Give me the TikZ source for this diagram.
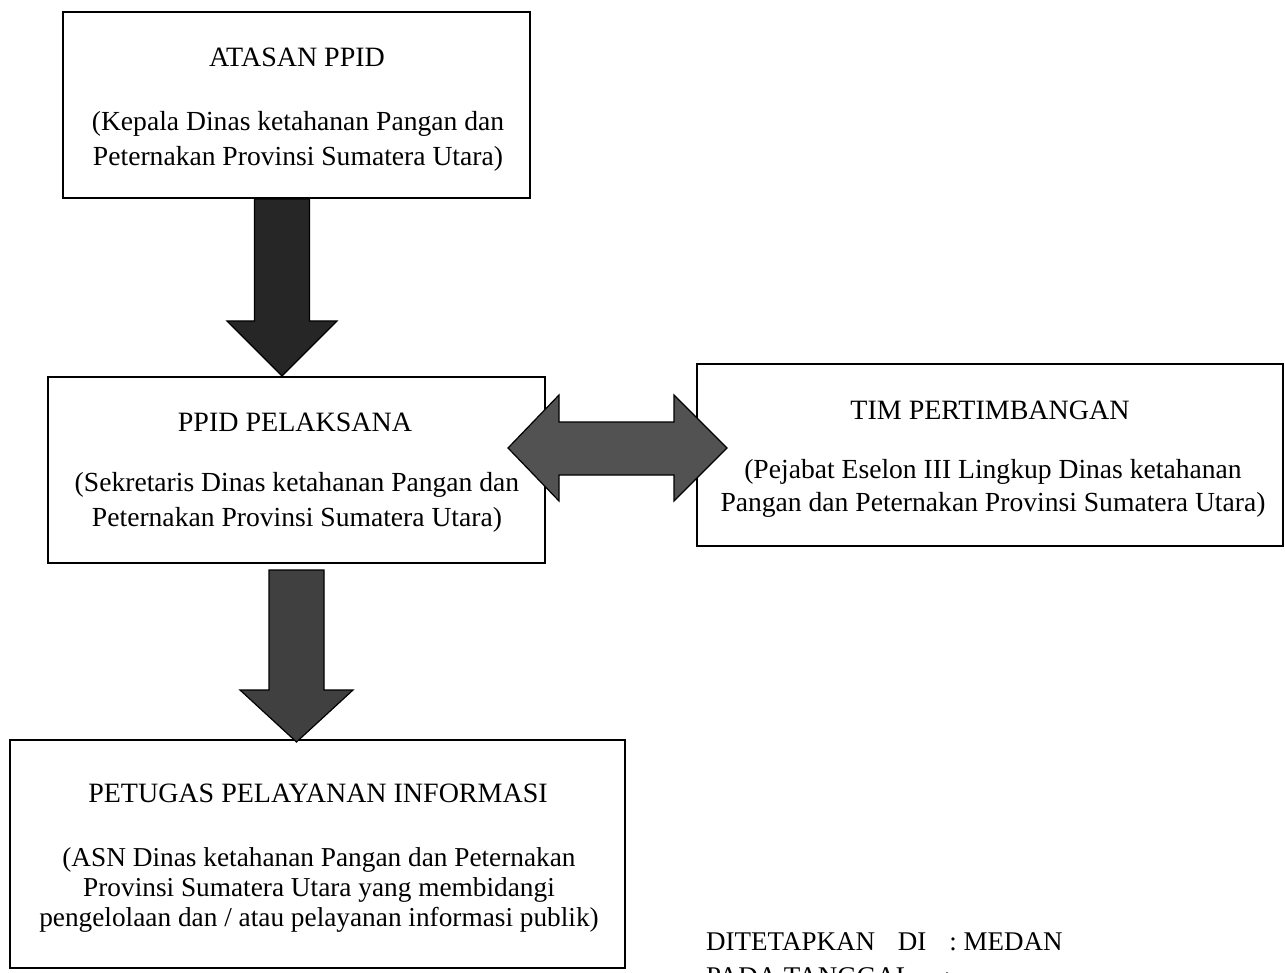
\documentclass[tikz,border=0pt]{standalone}
\usepackage{fontspec}
\setmainfont{Liberation Serif}
\usetikzlibrary{calc}
\begin{document}
\begin{tikzpicture}[x=1pt,y=-1pt,
  box/.style={draw=black,line width=2pt,fill=white,inner sep=0pt},
  title/.style={inner sep=0pt,font=\fontsize{28}{33}\selectfont},
  body/.style={inner sep=0pt,align=center,font=\fontsize{27.6}{35}\selectfont},
  fat/.style={draw=black,line width=1.2pt,line join=miter},
  foot/.style={inner sep=0pt,anchor=west,font=\fontsize{27}{30}\selectfont}]
\useasboundingbox (0,0) rectangle (1285,973);
\fill[white] (0,0) rectangle (1285,973);
\clip (0,0) rectangle (1285,973);
% boxes
\node[box,minimum width=467pt,minimum height=186pt] (atasan) at (296.5,105) {};
\node[box,minimum width=497pt,minimum height=186pt] (pelaksana) at (296.5,470) {};
\node[box,minimum width=586pt,minimum height=182pt] (tim) at (990,455) {};
\node[box,minimum width=615pt,minimum height=228pt] (petugas) at (317.5,854) {};
% texts
\node[title] (atasanT) at (297,57) {ATASAN PPID};
\node[body] (atasanS) at (298,141) {(Kepala Dinas ketahanan Pangan dan\\Peternakan Provinsi Sumatera Utara)};
\node[title] (pelT) at (295,422) {PPID PELAKSANA};
\node[body] (pelS) at (297,502) {(Sekretaris Dinas ketahanan Pangan dan\\Peternakan Provinsi Sumatera Utara)};
\node[title] (timT) at (990,410) {TIM PERTIMBANGAN};
\node[body,font=\fontsize{27.6}{33}\selectfont] (timS) at (993,488) {(Pejabat Eselon III Lingkup Dinas ketahanan\\Pangan dan Peternakan Provinsi Sumatera Utara)};
\node[title] (petT) at (318,793) {PETUGAS PELAYANAN INFORMASI};
\node[body,font=\fontsize{27.3}{30}\selectfont] (petS) at (319,890) {(ASN Dinas ketahanan Pangan dan Peternakan\\Provinsi Sumatera Utara yang membidangi\\pengelolaan dan / atau pelayanan informasi publik)};
% fat arrow 1
\coordinate (t1) at ($(atasan.south)+(-14.5,0)$);
\coordinate (h1) at (t1 |- pelaksana.north);
\draw[fat,fill=black!85] ($(t1)+(-27.5,0)$) -- ($(h1)+(-27.5,-55)$) -- ($(h1)+(-55,-55)$) -- (h1)
  -- ($(h1)+(55,-55)$) -- ($(h1)+(27.5,-55)$) -- ($(t1)+(27.5,0)$) -- cycle;
% fat arrow 2
\coordinate (t2) at ($(pelaksana.south)+(0,6)$);
\coordinate (h2) at ($(t2 |- petugas.north)+(0,3)$);
\draw[fat,fill=black!75] ($(t2)+(-27.5,0)$) -- ($(h2)+(-27.5,-52)$) -- ($(h2)+(-56.5,-52)$) -- (h2)
  -- ($(h2)+(56.5,-52)$) -- ($(h2)+(27.5,-52)$) -- ($(t2)+(27.5,0)$) -- cycle;
% double arrow
\coordinate (dl) at ($(pelaksana.east)+(-38,-22)$);
\coordinate (dr) at ($(dl -| tim.west)+(31,0)$);
\draw[fat,fill=black!68] (dl) -- ($(dl)+(51,-53)$) -- ($(dl)+(51,-26)$) -- ($(dr)+(-53,-26)$) -- ($(dr)+(-53,-53)$)
  -- (dr) -- ($(dr)+(-53,53)$) -- ($(dr)+(-53,27)$) -- ($(dl)+(51,27)$) -- ($(dl)+(51,53)$) -- cycle;
% footer
\node[foot] (dit) at (706,942) {DITETAPKAN\hspace{0.6em} DI\hspace{0.6em} : MEDAN};
\node[foot] (pada) at (706,977) {PADA TANGGAL\hspace{0.9em} :};
\end{tikzpicture}
\end{document}
